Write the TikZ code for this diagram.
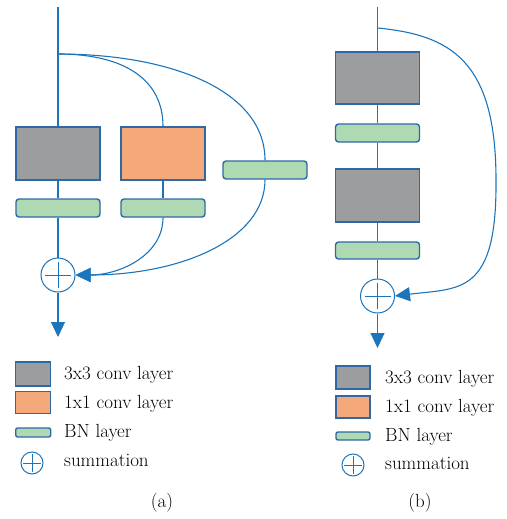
\documentclass[tikz,border=0pt]{standalone}
\usetikzlibrary{arrows.meta}
\definecolor{lineblue}{HTML}{1B75BC}
\definecolor{edgeblue}{HTML}{3068A6}
\definecolor{convgray}{HTML}{9B9D9F}
\definecolor{convorange}{HTML}{F5A87A}
\definecolor{bngreen}{HTML}{AED9B3}
\begin{document}
\begin{tikzpicture}[x=1pt,y=-1pt,
  gbox/.style={draw=edgeblue,line width=1.4pt,fill=convgray,minimum width=84pt,minimum height=53pt,inner sep=0pt},
  obox/.style={gbox,fill=convorange},
  bnbox/.style={draw=edgeblue,line width=1.4pt,fill=bngreen,rounded corners=3pt,minimum width=84pt,minimum height=18pt,inner sep=0pt},
  sumc/.style={draw=lineblue,line width=1pt,circle,minimum size=34pt,inner sep=0pt,fill=white},
  conn/.style={draw=lineblue,line width=1.1pt},
  tip/.style={-{Triangle[length=15pt,width=14pt]}},
  lgbox/.style={draw=edgeblue,line width=1.4pt,inner sep=0pt,minimum width=35pt},
  lgtext/.style={anchor=base west,inner sep=0pt,font=\fontsize{19}{22}\selectfont},
  captext/.style={inner sep=0pt,font=\fontsize{19}{22}\selectfont}]
\useasboundingbox (0,0) rectangle (506,519);

% ---------- panel (a)
\coordinate (atop) at (58,7);
\coordinate (abr) at (58,54);
\node[gbox] (ag) at (58,153.5) {};
\node[obox] (ao) at (163,153.5) {};
\node[bnbox] (ab3) at (265,170) {};
\node[bnbox] (ab1) at (58,208) {};
\node[bnbox] (ab2) at (163,208) {};
\node[sumc] (as) at (58,275) {};
\draw[lineblue,line width=1pt] (as.center) +(-13,0) -- +(13,0);
\draw[lineblue,line width=1pt] (as.center) +(0,-13) -- +(0,13);
\coordinate (aend) at (58,337);

\draw[conn] (atop) -- (ag.north);
\draw[conn] (ag.south) -- (ab1.north);
\draw[conn] (ab1.south) -- (as.north);
\draw[conn] (ao.south) -- (ab2.north);
\draw[conn] (abr) .. controls (125,54) and (163,80) .. (ao.north);
\draw[conn] (abr) .. controls (170,54) and (265,90) .. (ab3.north);
\draw[conn,tip] (ab2.south) .. controls (163,255) and (120,275) .. (as.east);
\draw[conn,tip] (ab3.south) .. controls (265,240) and (180,275) .. (as.east);
\draw[conn,tip] (as.south) -- (aend);

% ---------- panel (b)
\coordinate (btop) at (377.5,7);
\coordinate (bbr) at (377.5,28);
\node[gbox,minimum height=52pt] (bg1) at (377.5,78) {};
\node[bnbox] (bb1) at (377.5,133) {};
\node[gbox] (bg2) at (377.5,195.5) {};
\node[bnbox,minimum height=17pt] (bb2) at (377.5,250.5) {};
\node[sumc] (bs) at (377.5,296) {};
\draw[lineblue,line width=1pt] (bs.center) +(-13,0) -- +(13,0);
\draw[lineblue,line width=1pt] (bs.center) +(0,-13) -- +(0,13);
\coordinate (bend) at (377.5,348);
\coordinate (bmid) at (496,180);

\draw[conn] (btop) -- (bg1.north);
\draw[conn] (bg1.south) -- (bb1.north);
\draw[conn] (bb1.south) -- (bg2.north);
\draw[conn] (bg2.south) -- (bb2.north);
\draw[conn] (bb2.south) -- (bs.north);
\draw[conn,tip] (bbr) .. controls (450,35) and (496,60) .. (bmid)
  .. controls (497,295) and (460,288) .. (bs.east);
\draw[conn,tip] (bs.south) -- (bend);

% ---------- legend (a)
\node[lgbox,fill=convgray,minimum height=24pt] (la1) at (33.2,374) {};
\node[lgbox,fill=convorange,minimum height=22pt] (la2) at (33.2,402.5) {};
\node[lgbox,fill=bngreen,minimum height=9pt,rounded corners=2pt] (la3) at (33.2,432.5) {};
\node[draw=lineblue,line width=1pt,circle,minimum size=22pt,inner sep=0pt] (la4) at (32,463) {};
\draw[lineblue,line width=1pt] (la4.center) +(-9,0) -- +(9,0);
\draw[lineblue,line width=1pt] (la4.center) +(0,-9) -- +(0,9);
\node[lgtext] (ta1) at (64,379) {3x3 conv layer};
\node[lgtext] (ta2) at (64,408) {1x1 conv layer};
\node[lgtext] (ta3) at (64,437) {BN layer};
\node[lgtext] (ta4) at (64,466) {summation};
\node[captext] (capa) at (162,503) {(a)};

% ---------- legend (b)
\node[lgbox,fill=convgray,minimum height=23pt,minimum width=34pt] (lb1) at (353,377.5) {};
\node[lgbox,fill=convorange,minimum height=22pt,minimum width=34pt] (lb2) at (353,407) {};
\node[lgbox,fill=bngreen,minimum height=8pt,minimum width=34pt,rounded corners=2pt] (lb3) at (353,436) {};
\node[draw=lineblue,line width=1pt,circle,minimum size=22pt,inner sep=0pt] (lb4) at (353,465) {};
\draw[lineblue,line width=1pt] (lb4.center) +(-9,0) -- +(9,0);
\draw[lineblue,line width=1pt] (lb4.center) +(0,-9) -- +(0,9);
\node[lgtext] (tb1) at (385,383) {3x3 conv layer};
\node[lgtext] (tb2) at (385,412) {1x1 conv layer};
\node[lgtext] (tb3) at (385,441) {BN layer};
\node[lgtext] (tb4) at (385,469) {summation};
\node[captext] (capb) at (420,503) {(b)};
\end{tikzpicture}
\end{document}
